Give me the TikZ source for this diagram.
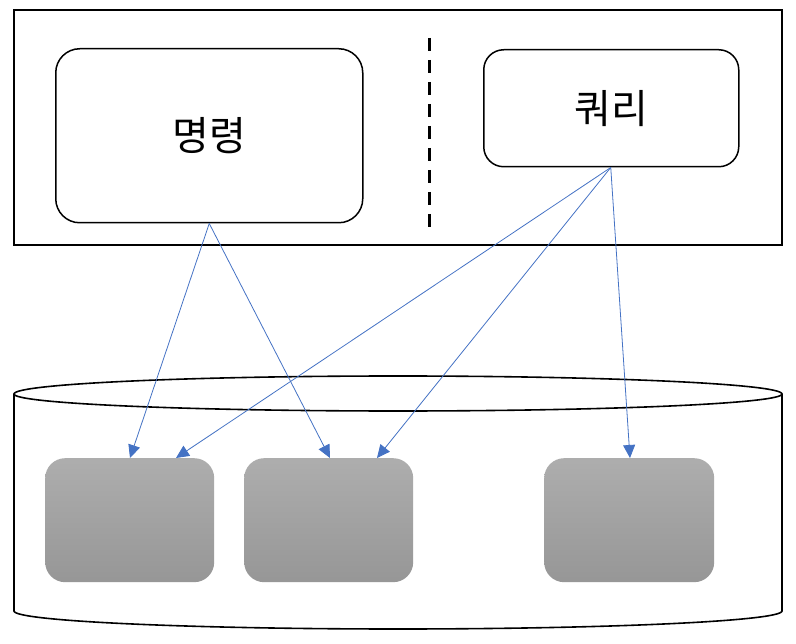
\documentclass[tikz,border=0pt]{standalone}
\usepackage{fontspec}
\newfontfamily\kr{Noto Sans CJK KR}
\usetikzlibrary{arrows.meta,shapes.geometric}
\definecolor{arrowblue}{HTML}{4472C4}
\tikzset{
  blk/.style={draw=black,line width=1.6pt},
  opbox/.style={draw=black,line width=1.5pt,rounded corners=24pt,fill=white},
  store/.style={rounded corners=20pt,top color=gray!64,bottom color=gray!82,draw=none},
  link/.style={draw=arrowblue,line width=0.8pt,-{Triangle[length=13pt,width=12pt]}},
  lbl/.style={font=\kr\fontsize{40}{46}\selectfont}
}
\begin{document}
\begin{tikzpicture}[x=1pt,y=-1pt]
\useasboundingbox (0,0) rectangle (796,644);
% outer frame
\draw[blk] (14,10) rectangle (782,245);
% dashed divider
\coordinate (dtop) at (429,38);
\coordinate (dbot) at (429,228);
\draw[black,line width=3pt,dash pattern=on 13pt off 9pt] (dtop) -- (dbot);
% command / query boxes
\node[opbox,minimum width=307pt,minimum height=174pt,anchor=north west] (cmd) at (55,48) {};
\node[lbl] at (cmd.center) {명령};
\node[opbox,rounded corners=20pt,minimum width=255pt,minimum height=117pt,anchor=north west] (qry) at (483,49) {};
\node[lbl] at (qry.center) {쿼리};
% cylinder
\draw[blk,fill=white] (14,394) -- (14,611) arc[start angle=180,end angle=0,x radius=384,y radius=18] -- (782,394) arc[start angle=0,end angle=-180,x radius=384,y radius=18] -- cycle;
\draw[blk] (14,394) arc[start angle=180,end angle=0,x radius=384,y radius=17];
% stores
\node[store,minimum width=169pt,minimum height=124pt,anchor=north west] (s1) at (45,458) {};
\node[store,minimum width=169pt,minimum height=124pt,anchor=north west] (s2) at (244,458) {};
\node[store,minimum width=170pt,minimum height=124pt,anchor=north west] (s3) at (544,458) {};
% connectors
\draw[link] (cmd.south) -- (s1.north west -| 130,0);
\draw[link] (cmd.south) -- (s2.north west -| 330,0);
\draw[link] (qry.south) ++(-0.5,0) -- (s1.north west -| 176,0);
\draw[link] (qry.south) ++(-0.5,0) -- (s2.north west -| 377,0);
\draw[link] (qry.south) ++(-0.5,0) -- (s3.north west -| 630,0);
\end{tikzpicture}
\end{document}
